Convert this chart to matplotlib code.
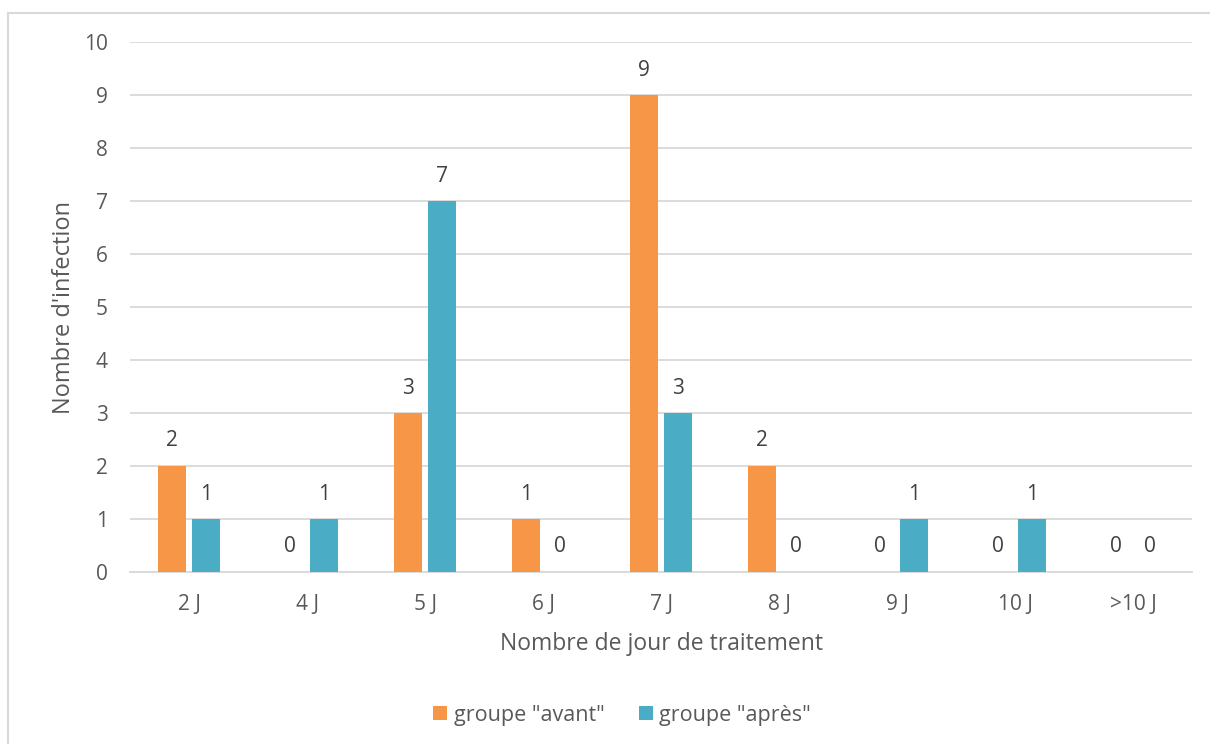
import numpy as np
import matplotlib.pyplot as plt
from matplotlib.patches import Rectangle

# Données du graphique
jours = ['2 J', '4 J', '5 J', '6 J', '7 J', '8 J', '9 J', '10 J', '>10 J']
avant = [2, 0, 3, 1, 9, 2, 0, 0, 0]
apres = [1, 1, 7, 0, 3, 0, 1, 1, 0]

c_avant = '#F79646'
c_apres = '#4BACC6'
gris = '#595959'

plt.rcParams['font.family'] = ['Open Sans', 'DejaVu Sans']

fig = plt.figure(figsize=(12.1, 7.44), dpi=100)
ax = fig.add_axes([130 / 1210, 1 - 572 / 744, 1062 / 1210, 530 / 744])

# cadre du graphique (style Excel)
fig.patches.append(Rectangle((8 / 1210, -0.1), 1.2, 1 - 13 / 744 + 0.1,
                             transform=fig.transFigure, fill=False,
                             edgecolor='#D9D9D9', linewidth=1.5))

x = np.arange(len(jours))
w = 0.229
dx = 0.144
b1 = ax.bar(x - dx, avant, w, color=c_avant, label='groupe "avant"', zorder=3)
b2 = ax.bar(x + dx, apres, w, color=c_apres, label='groupe "après"', zorder=3)

# étiquettes de valeur au-dessus des barres
for bars, vals in ((b1, avant), (b2, apres)):
    for rect, v in zip(bars, vals):
        ax.annotate(str(v), (rect.get_x() + rect.get_width() / 2, v),
                    xytext=(0, 18), textcoords='offset points',
                    ha='center', va='center', fontsize=15, color='#404040')

ax.set_xlim(-0.5, len(jours) - 0.5)
ax.set_ylim(0, 10)
ax.set_yticks(range(0, 11))
ax.set_xticks(x)
ax.set_xticklabels(jours)
ax.tick_params(axis='both', length=0, labelsize=15, colors=gris)
ax.tick_params(axis='x', pad=16)
ax.tick_params(axis='y', pad=16)
ax.grid(axis='y', color='#D9D9D9', linewidth=1.3, zorder=0)
for s in ['top', 'right', 'left']:
    ax.spines[s].set_visible(False)
ax.spines['bottom'].set_color('#D9D9D9')
ax.spines['bottom'].set_linewidth(1.3)

ax.set_xlabel('Nombre de jour de traitement', fontsize=16.5, color=gris, labelpad=12)
ax.set_ylabel("Nombre d'infection", fontsize=17, color=gris, labelpad=6)

fig.legend(handles=[b1, b2], loc='center', bbox_to_anchor=(622 / 1210, 1 - 715 / 744),
           ncol=2, frameon=False, fontsize=15.5, labelcolor=gris,
           handlelength=0.65, handleheight=0.65, handletextpad=0.3, columnspacing=1.6)

fig.savefig('out.png', dpi=100)
